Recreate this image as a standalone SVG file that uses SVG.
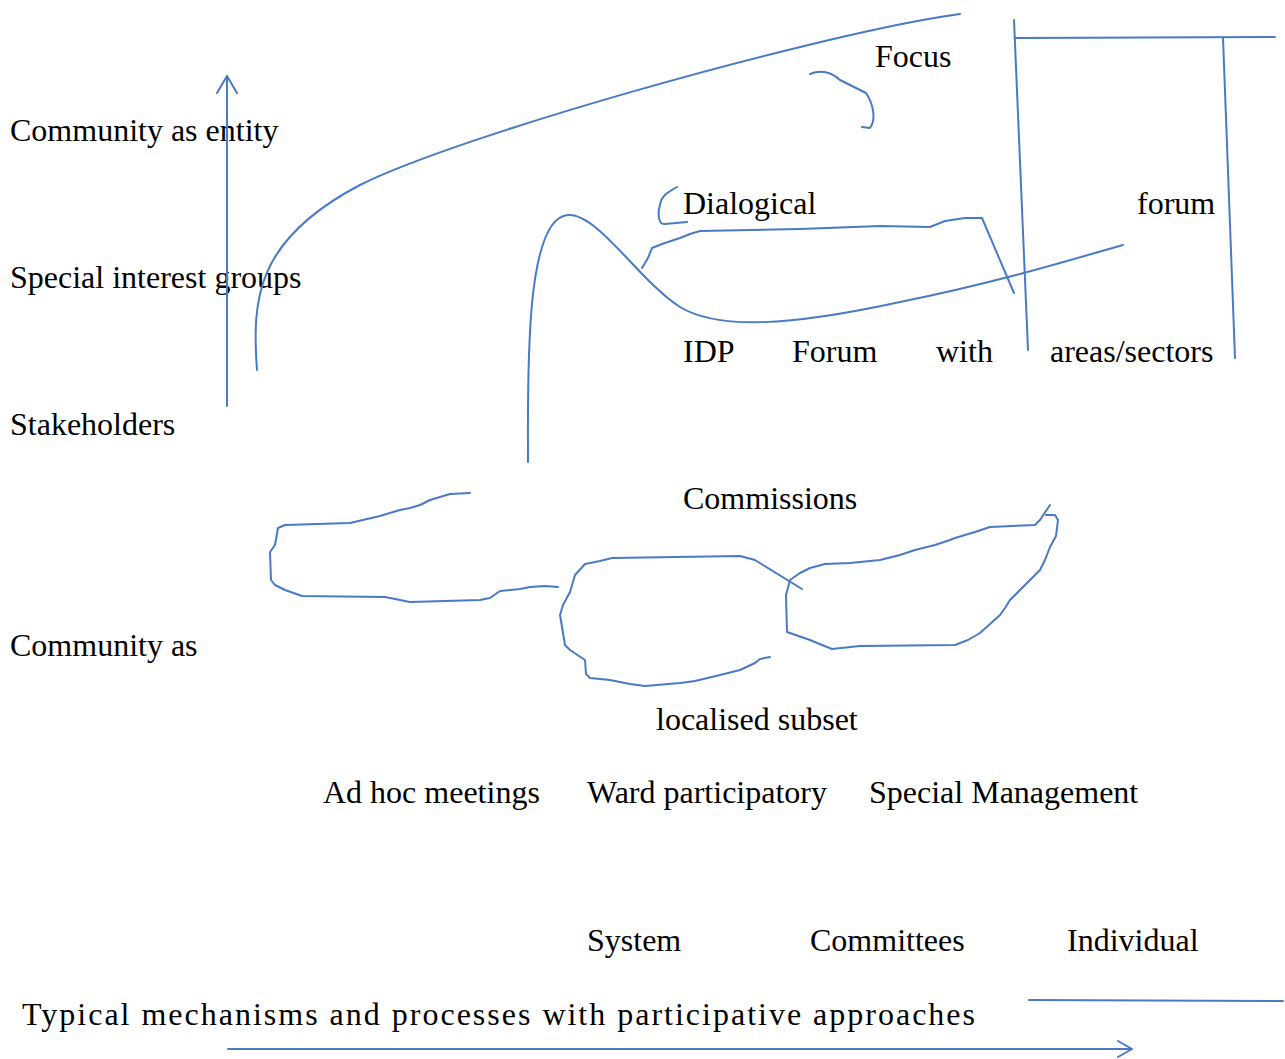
<svg xmlns="http://www.w3.org/2000/svg" width="1285" height="1059" viewBox="0 0 1285 1059">
<style>
text{font-family:"Liberation Serif","Times New Roman",serif;font-size:32px;fill:#000}
.ln{fill:none;stroke:#4a7ac4;stroke-width:2;stroke-linejoin:round;stroke-linecap:round}
</style>
<rect width="1285" height="1059" fill="#fff"/>
<g id="labels-left">
<text x="10" y="141">Community as entity</text>
<text x="10" y="288">Special interest groups</text>
<text x="10" y="435">Stakeholders</text>
<text x="10" y="656">Community as</text>
</g>
<g id="node-focus"><text x="875" y="67">Focus</text></g>
<g id="node-dialogical"><text x="683" y="214">Dialogical</text><text x="1137" y="214">forum</text></g>
<g id="node-idp"><text x="683" y="362">IDP</text><text x="792" y="362">Forum</text><text x="936" y="362">with</text><text x="1050" y="362">areas/sectors</text></g>
<g id="node-commissions"><text x="683" y="509">Commissions</text></g>
<g id="node-localised"><text x="656" y="730">localised subset</text></g>
<g id="node-mechanisms">
<text x="323" y="803">Ad hoc meetings</text>
<text x="587" y="803">Ward participatory</text>
<text x="869" y="803">Special Management</text>
<text x="587" y="951">System</text>
<text x="810" y="951">Committees</text>
<text x="1067" y="951">Individual</text>
</g>
<g id="caption"><text x="22" y="1025" textLength="953" lengthAdjust="spacing">Typical mechanisms and processes with participative approaches</text></g>
<g id="connectors">
<path class="ln" d="M227,406 L227,76 M217,93 L227,76 L237,93"/>
<path class="ln" d="M257,370 C252,300 255,240 360,185 C460,135 800,40 940,17 L960,14"/>
<path class="ln" d="M810,74 C820,70 830,71 840,80 L866,93 C874,105 876,120 870,128 L862,127"/>
<path class="ln" d="M677,187 C668,192 661,196 660,205 C657,215 659,225 665,224 L687,222"/>
<path class="ln" d="M528,462 C528,380 524,218 568,215 C598,213 640,282 680,307 C718,330 790,326 900,302 C1000,282 1080,257 1123,245"/>
<path class="ln" d="M642,268 L648,258 L652,248 L662,244 L680,238 L690,234 L700,231 L800,229 L880,226 L930,227 L945,221 L965,218 L982,218 L1014,293"/>
<path class="ln" d="M1014,20 L1028,350 M1016,38 L1275,37 M1223,38 L1235,358"/>
<path class="ln" d="M470,493 L450,494 L440,497 L430,500 L420,505 L410,508 L400,510 L380,516 L350,523 L285,525 L278,528 L275,545 L270,552 L271,580 L275,585 L285,590 L302,596 L385,597 L410,602 L480,600 L490,598 L500,591 L520,589 L530,587 L545,586 L558,587"/>
<path class="ln" d="M802,589 L755,560 L740,556 L612,558 L600,561 L585,564 L575,575 L570,592 L563,605 L560,615 L565,645 L570,650 L585,660 L586,674 L590,678 L610,680 L630,684 L645,686 L680,683 L695,681 L720,675 L740,670 L755,663 L760,659 L770,657"/>
<path class="ln" d="M1050,505 L1040,520 L1035,525 L990,527 L975,532 L955,538 L950,540 L935,545 L915,550 L900,555 L880,560 L850,563 L825,564 L810,568 L800,573 L790,580 L786,595 L787,632 L810,640 L822,645 L832,649 L860,646 L955,645 L968,640 L980,633 L990,624 L1000,615 L1005,608 L1010,600 L1020,590 L1030,580 L1040,570 L1045,560 L1050,547 L1056,536 L1058,520 L1055,515 L1046,515"/>
<path class="ln" d="M1029,1000 L1283,1001"/>
<path class="ln" d="M228,1049 L1132,1049 M1118,1041 L1132,1049 L1118,1057"/>
</g>
</svg>
